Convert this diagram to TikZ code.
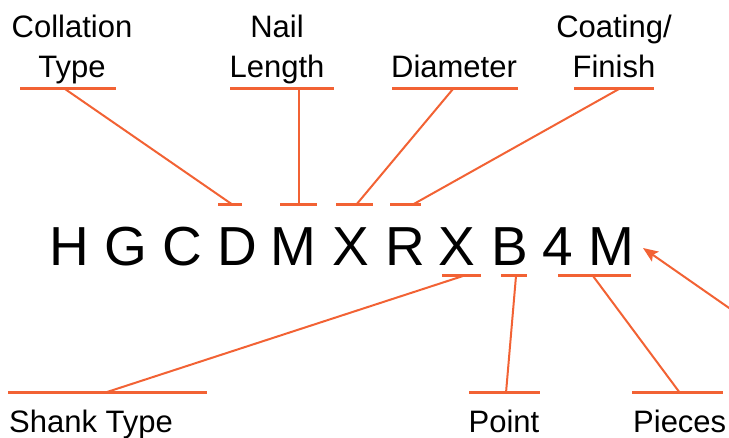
\documentclass[tikz,border=0pt]{standalone}
\usepackage{fontspec}
\setmainfont{Liberation Sans}
\usetikzlibrary{positioning,arrows.meta}
\definecolor{codeorange}{RGB}{242,98,52}
\begin{document}
\begin{tikzpicture}[x=1pt, y=-1pt,
  letter/.style={inner sep=0pt, anchor=base, font=\fontsize{55}{60}\selectfont},
  lbl/.style={inner sep=0pt, align=center, anchor=south, text depth=7pt,
    font=\fontsize{31}{40}\selectfont},
  botlbl/.style={inner sep=0pt, font=\fontsize{31}{40}\selectfont},
  bar/.style={draw=codeorange, line width=3pt},
  lead/.style={draw=codeorange, line width=2pt}]
  \clip (0,0) rectangle (729,438);
  % the code itself
  \foreach \ch/\x/\nm in {H/69/h, G/126/g, C/182/c, D/237/d, M/293/m, X/351/x,
      R/405/r, X/457/xx, B/510/b, 4/558/four, M/611/mm}
    \node[letter] (\nm) at (\x,266) {\ch};
  % top labels
  \node[lbl] (coll) at (72,85) {Collation\\Type};
  \node[lbl] (nail) at (277,85) {Nail\\Length};
  \node[lbl] (diam) at (454,85) {Diameter};
  \node[lbl] (coat) at (614,85) {Coating/\\Finish};
  \coordinate (collU) at (65,89);  \coordinate (collB) at (233,205);
  \coordinate (nailU) at (299,89); \coordinate (nailB) at (299,205);
  \coordinate (diamU) at (453,89); \coordinate (diamB) at (356,205);
  \coordinate (coatU) at (619,89); \coordinate (coatB) at (412,205);
  \draw[bar] (20,89) -- (116,89);   \draw[bar] (218,205) -- (242,205);
  \draw[bar] (230,89) -- (334,89);  \draw[bar] (280,205) -- (317,205);
  \draw[bar] (392,89) -- (518,89);  \draw[bar] (336,205) -- (373,205);
  \draw[bar] (574,89) -- (654,89);  \draw[bar] (390,205) -- (421,205);
  \draw[lead] (collU) -- (collB);
  \draw[lead] (nailU) -- (nailB);
  \draw[lead] (diamU) -- (diamB);
  \draw[lead] (coatU) -- (coatB);
  % bottom labels
  \node[botlbl, anchor=base west] (shank) at (9,433) {Shank Type};
  \node[botlbl, anchor=base] (point) at (504,433) {Point};
  \node[botlbl, anchor=base west] (pieces) at (633,433) {Pieces};
  \coordinate (shankU) at (104,393); \coordinate (shankB) at (463,276);
  \coordinate (pointU) at (506,393); \coordinate (pointB) at (516,276);
  \coordinate (piecesU) at (680,393); \coordinate (piecesB) at (593,276);
  \draw[bar] (8,393) -- (207,393);   \draw[bar] (442,276) -- (481,276);
  \draw[bar] (469,393) -- (540,393); \draw[bar] (501,276) -- (527,276);
  \draw[bar] (632,393) -- (723,393); \draw[bar] (558,276) -- (631,276);
  \draw[lead] (shankU) -- (shankB);
  \draw[lead] (pointU) -- (pointB);
  \draw[lead] (piecesU) -- (piecesB);
  % arrow coming in from the right
  \coordinate (arrTail) at (775,340);
  \coordinate (arrTip) at (643,248);
  \draw[lead, -{Stealth[length=15pt, width=12pt, inset=3pt]}] (arrTail) -- (arrTip);
\end{tikzpicture}
\end{document}
